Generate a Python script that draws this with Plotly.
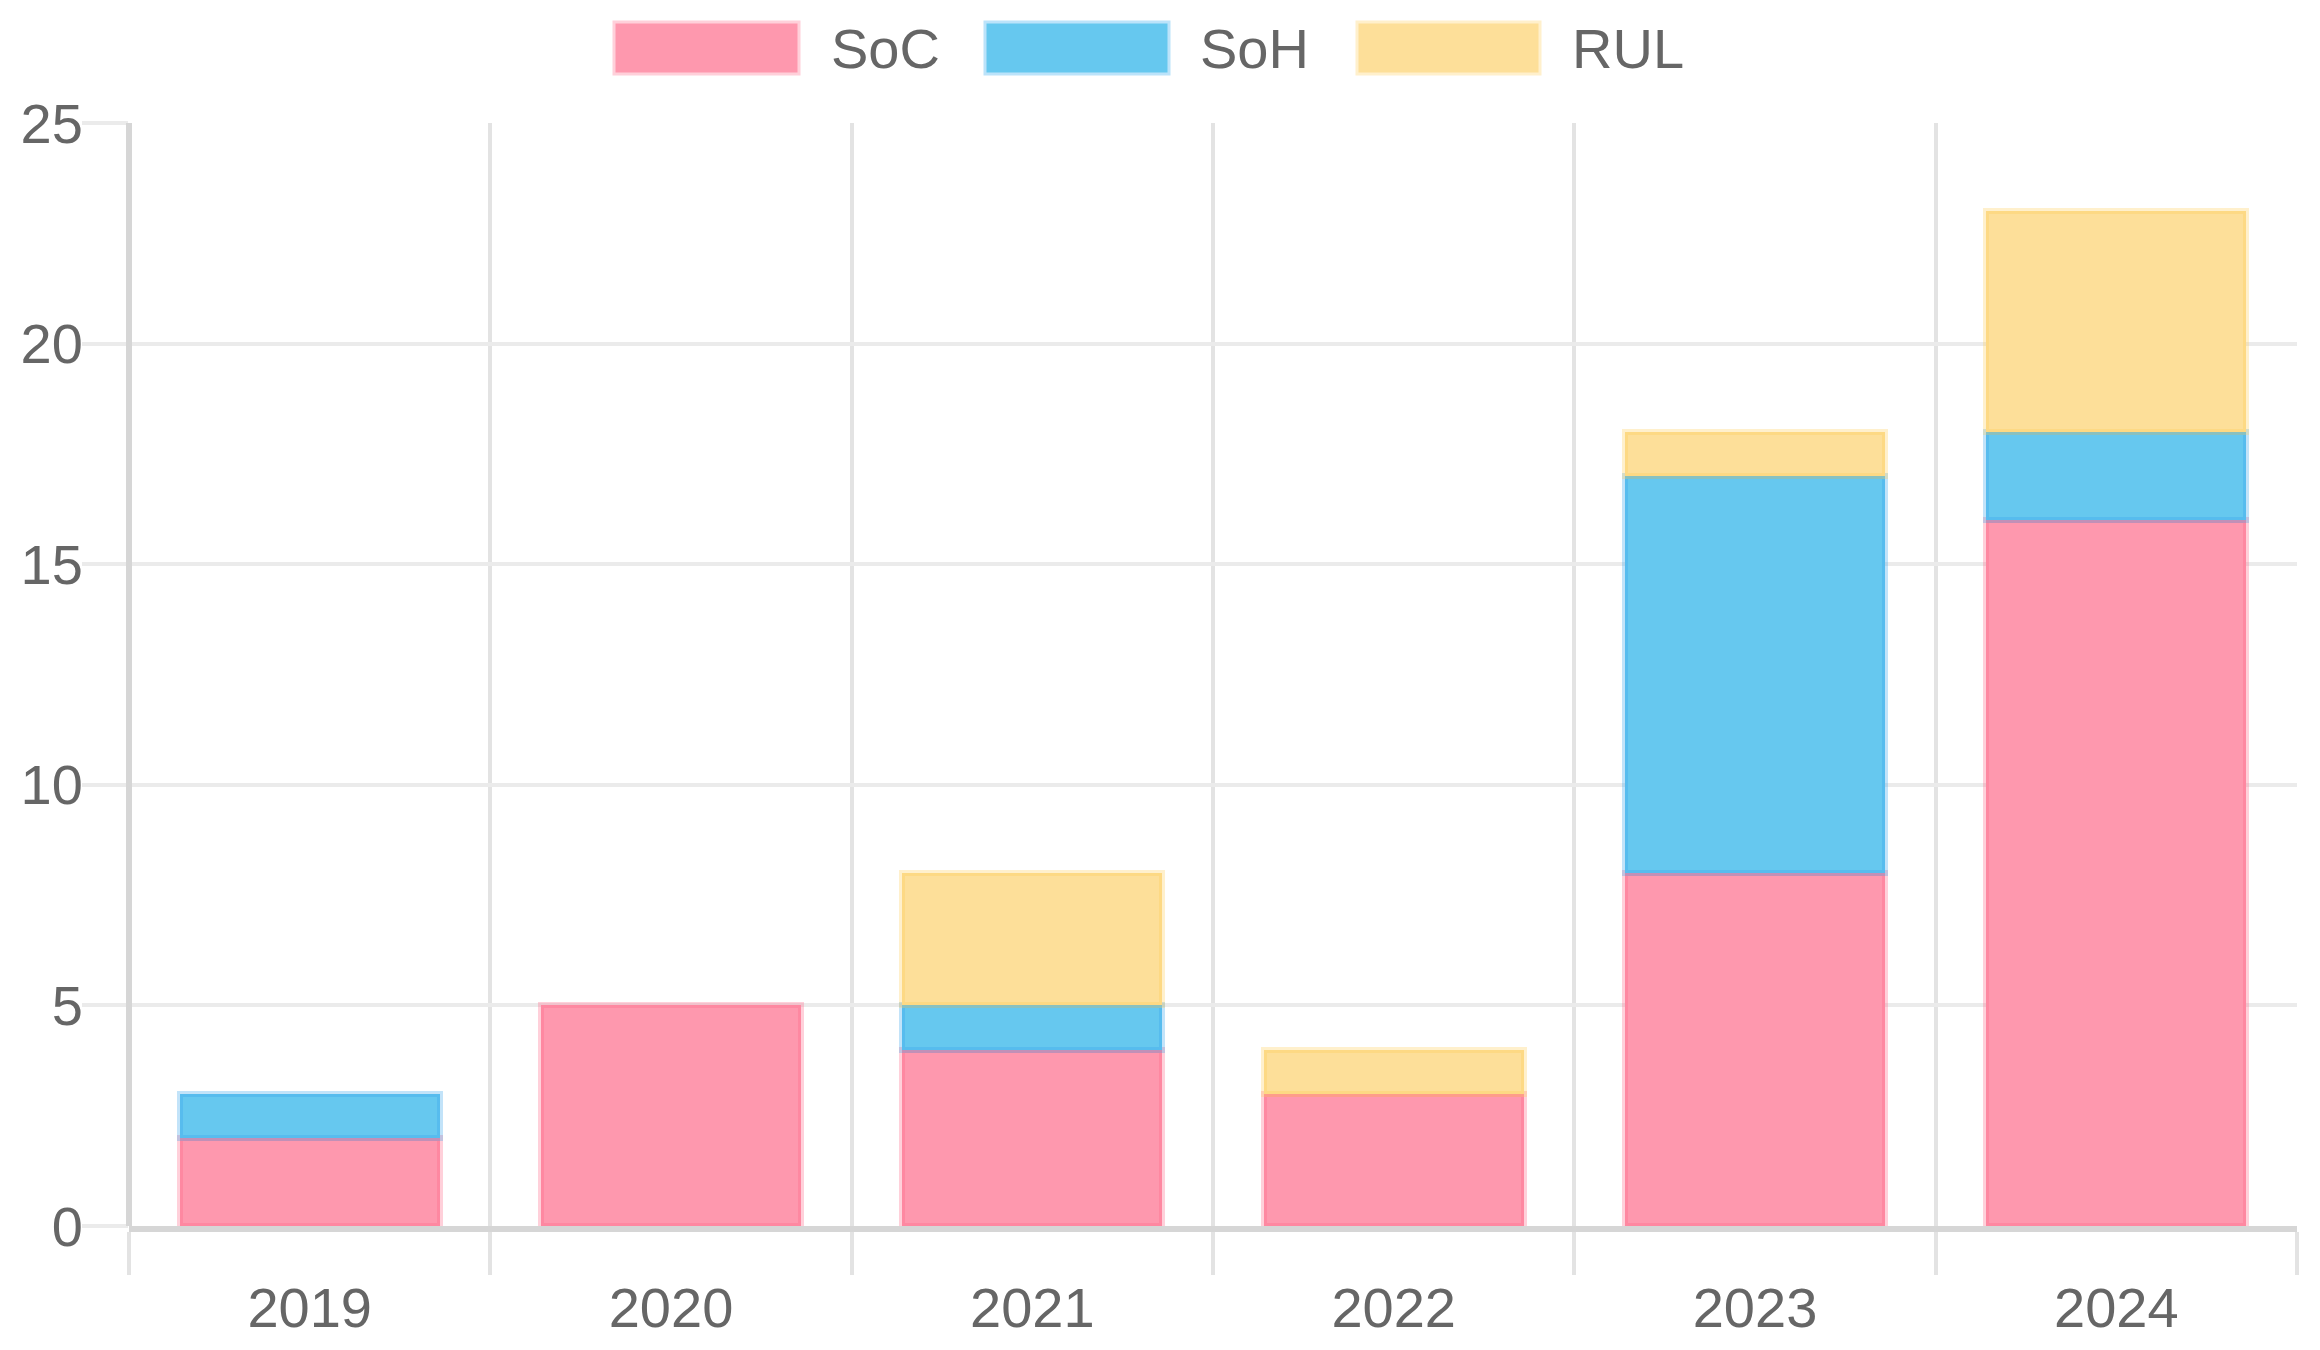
import plotly.graph_objects as go

years = ["2019", "2020", "2021", "2022", "2023", "2024"]
soc = [2, 5, 4, 3, 8, 16]
soh = [1, 0, 1, 0, 9, 2]
rul = [0, 0, 3, 1, 1, 5]
series_names = ["SoC", "SoH", "RUL"]
colors = ["#FE98AE", "#66C8EF", "#FDDF99"]
edge_colors = ["rgba(255,99,132,0.3)", "rgba(54,162,235,0.3)", "rgba(255,206,86,0.3)"]
legend_edges = ["#FFD0DA", "#BCE3FA", "#FFF0CC"]

W, H = 2320, 1350
OFFX, OFFY = 8, 8  # page offset of the figure div (body margin)
L, R, T, B = 121, 31, 115, 132
PW, PH = W - L - R, H - T - B

FONT = "Liberation Sans, Arial, sans-serif"
TXT = "#666666"
FS = 56

fig = go.Figure()
for name, vals, c, ec in zip(series_names, [soc, soh, rul], colors, edge_colors):
    fig.add_trace(go.Bar(x=years, y=[v if v else None for v in vals], name=name,
                         marker=dict(color=c, line=dict(color=ec, width=6)),
                         showlegend=False))

def px_x(p):
    return (p - OFFX - L) / PW

def px_y(p):
    return 1 - (p - OFFY - T) / PH

shapes = [dict(type="line", xref="paper", yref="paper", x0=0, x1=0, y0=0, y1=1,
               line=dict(color="#d6d6d6", width=6), layer="above")]
annotations = []
legend_boxes = [(614, 799), (985, 1169), (1357, 1540)]
text_x = [829, 1198, 1570]
for (x0, x1), tx, name, c, ec in zip(legend_boxes, text_x, series_names, colors, legend_edges):
    shapes.append(dict(type="rect", xref="paper", yref="paper",
                       x0=px_x(x0), x1=px_x(x1), y0=px_y(74), y1=px_y(22),
                       fillcolor=c, line=dict(color=ec, width=3), layer="above"))
    annotations.append(dict(xref="paper", yref="paper", x=px_x(tx), y=px_y(49),
                            xanchor="left", yanchor="middle", text=name, showarrow=False,
                            font=dict(family=FONT, size=FS, color=TXT)))

fig.update_layout(
    width=W, height=H,
    margin=dict(l=L, r=R, t=T, b=B, pad=0, autoexpand=False),
    barmode="stack",
    bargap=0.28,
    plot_bgcolor="white", paper_bgcolor="white",
    font=dict(family=FONT, size=FS, color=TXT),
    shapes=shapes, annotations=annotations,
    xaxis=dict(
        type="category", tickson="boundaries", automargin=False,
        showgrid=True, gridcolor="#e3e3e3", gridwidth=4,
        ticks="outside", ticklen=43, tickwidth=4, tickcolor="#e3e3e3",
        showline=True, linecolor="#d6d6d6", linewidth=6,
        ticklabelstandoff=28,
        tickfont=dict(family=FONT, size=FS, color=TXT),
    ),
    yaxis=dict(
        range=[0, 25], dtick=5, automargin=False,
        showgrid=True, gridcolor="#ebebeb", gridwidth=4,
        zeroline=False,
        ticks="outside", ticklen=46, tickwidth=4, tickcolor="#ebebeb",
        showline=False,
        ticklabelstandoff=-12,
        tickfont=dict(family=FONT, size=FS, color=TXT),
    ),
)

fig.write_html("out.html")
